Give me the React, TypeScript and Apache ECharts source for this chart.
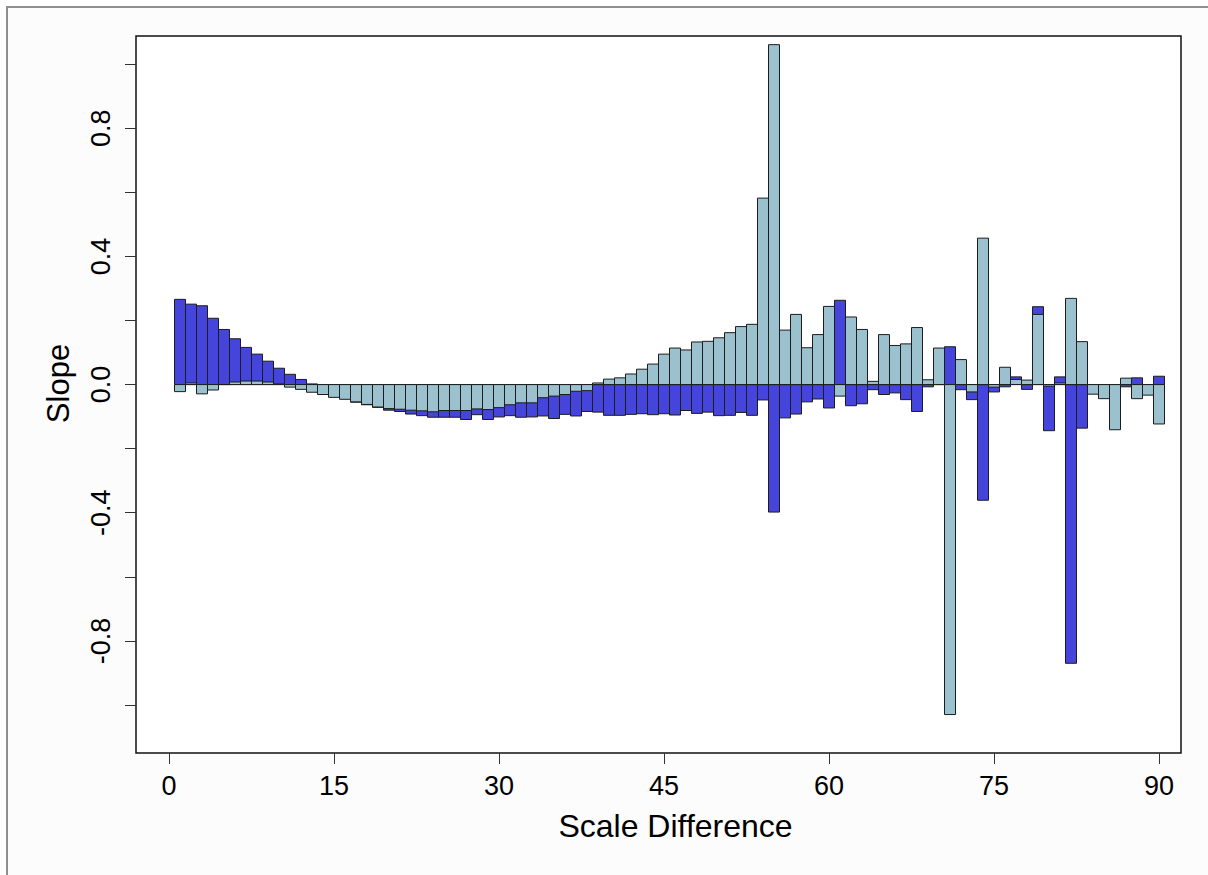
import React, { useEffect, useRef } from "react";
import * as echarts from "echarts";

const scaleDiff = [
  1, 2, 3, 4, 5, 6, 7, 8, 9, 10, 11, 12, 13, 14, 15, 16, 17, 18, 19, 20,
  21, 22, 23, 24, 25, 26, 27, 28, 29, 30, 31, 32, 33, 34, 35, 36, 37, 38, 39, 40,
  41, 42, 43, 44, 45, 46, 47, 48, 49, 50, 51, 52, 53, 54, 55, 56, 57, 58, 59, 60,
  61, 62, 63, 64, 65, 66, 67, 68, 69, 70, 71, 72, 73, 74, 75, 76, 77, 78, 79, 80,
  81, 82, 83, 84, 85, 86, 87, 88, 89, 90,
];

// dark blue series (drawn first)
const slopeBlue = [
  0.266, 0.251, 0.246, 0.207, 0.172, 0.143, 0.116, 0.095, 0.073, 0.051,
  0.032, 0.016, 0.002, -0.01, -0.02, -0.03, -0.055, -0.063, -0.071, -0.08,
  -0.084, -0.092, -0.097, -0.102, -0.102, -0.102, -0.109, -0.094, -0.109, -0.101,
  -0.097, -0.102, -0.101, -0.098, -0.106, -0.093, -0.098, -0.084, -0.086, -0.096,
  -0.096, -0.093, -0.091, -0.094, -0.091, -0.095, -0.081, -0.09, -0.086, -0.097,
  -0.096, -0.087, -0.096, -0.048, -0.398, -0.104, -0.092, -0.054, -0.045, -0.073,
  0.263, -0.066, -0.06, -0.016, -0.031, -0.026, -0.047, -0.084, -0.007, 0.0,
  0.118, -0.016, -0.047, -0.361, -0.023, -0.007, 0.024, -0.015, 0.243, -0.144,
  0.024, -0.87, -0.136, -0.005, 0.0, 0.0, -0.007, 0.021, 0.0, 0.026,
];

// light blue series (drawn on top)
const slopeLight = [
  -0.022, 0.005, -0.029, -0.017, 0.0, 0.008, 0.011, 0.011, 0.008, 0.002,
  -0.008, -0.015, -0.024, -0.031, -0.04, -0.046, -0.054, -0.062, -0.07, -0.075,
  -0.077, -0.08, -0.082, -0.085, -0.081, -0.081, -0.081, -0.076, -0.078, -0.072,
  -0.063, -0.057, -0.057, -0.041, -0.036, -0.031, -0.021, -0.019, 0.005, 0.017,
  0.021, 0.033, 0.048, 0.064, 0.095, 0.114, 0.108, 0.133, 0.135, 0.146,
  0.162, 0.181, 0.188, 0.582, 1.061, 0.17, 0.219, 0.115, 0.156, 0.244,
  -0.036, 0.211, 0.172, 0.01, 0.156, 0.122, 0.127, 0.178, 0.015, 0.114,
  -1.03, 0.078, -0.023, 0.457, -0.008, 0.054, 0.016, 0.014, 0.219, -0.005,
  0.005, 0.269, 0.134, -0.03, -0.044, -0.141, 0.02, -0.044, -0.033, -0.123,
];

const xTicks = [0, 15, 30, 45, 60, 75, 90];
const yTicks = [-1.0, -0.8, -0.6, -0.4, -0.2, 0.0, 0.2, 0.4, 0.6, 0.8, 1.0];
const yLabels = [-0.8, -0.4, 0.0, 0.4, 0.8];

const FONT = "'Liberation Sans', Arial, Helvetica, sans-serif";

function makeSeries(name: string, values: number[], fill: string) {
  return {
    type: "custom",
    name,
    data: scaleDiff.map((x, i) => [x, values[i]]),
    encode: { x: 0, y: 1 },
    renderItem: (params: any, api: any) => {
      const x = api.value(0);
      const v = api.value(1);
      const p0 = api.coord([x - 0.5, 0]);
      const p1 = api.coord([x + 0.5, v]);
      return {
        type: "rect",
        shape: {
          x: p0[0],
          y: Math.min(p0[1], p1[1]),
          width: p1[0] - p0[0],
          height: Math.abs(p1[1] - p0[1]),
        },
        style: { fill, stroke: "#1c1c1c", lineWidth: 1 },
      };
    },
  };
}

export default function App() {
  const ref = useRef<HTMLDivElement>(null);
  useEffect(() => {
    if (!ref.current) return;
    const chart = echarts.init(ref.current, undefined, { renderer: "svg" });
    chart.setOption({
      animation: false,
      grid: {
        left: 136,
        right: 27,
        top: 36,
        bottom: 122,
        show: true,
        backgroundColor: "#ffffff",
        borderColor: "#111111",
        borderWidth: 1.5,
      },
      xAxis: {
        type: "value",
        min: -3,
        max: 92,
        name: "Scale Difference",
        nameLocation: "middle",
        nameGap: 57,
        nameTextStyle: {
          fontSize: 32,
          fontFamily: FONT,
          color: "#000",
          padding: [0, 0, 0, 34],
        },
        axisLine: { show: false, onZero: false },
        splitLine: { show: false },
        axisTick: {
          show: true,
          length: 11,
          inside: false,
          customValues: xTicks,
          lineStyle: { color: "#333", width: 1 },
        },
        axisLabel: {
          customValues: xTicks,
          fontSize: 27,
          fontFamily: FONT,
          color: "#000",
          margin: 19,
        },
      },
      yAxis: {
        type: "value",
        min: -1.15,
        max: 1.088,
        name: "Slope",
        nameLocation: "middle",
        nameGap: 62,
        nameRotate: 90,
        nameTextStyle: {
          fontSize: 31,
          fontFamily: FONT,
          color: "#000",
          padding: [0, 0, 0, 22],
        },
        axisLine: { show: false, onZero: false },
        splitLine: { show: false },
        axisTick: {
          show: true,
          length: 11,
          customValues: yTicks,
          lineStyle: { color: "#333", width: 1 },
        },
        axisLabel: {
          customValues: yLabels,
          rotate: 90,
          fontSize: 27,
          fontFamily: FONT,
          color: "#000",
          margin: 22,
          formatter: (v: number) => v.toFixed(1),
        },
      },
      series: [
        makeSeries("Blue", slopeBlue, "#4545DB"),
        makeSeries("Light blue", slopeLight, "#9BC1CE"),
      ],
    });
    return () => chart.dispose();
  }, []);

  return (
    <div
      style={{
        position: "fixed",
        left: 0,
        top: 0,
        width: 1208,
        height: 875,
        background: "#ffffff",
      }}
    >
      <div
        style={{
          position: "absolute",
          left: 6,
          top: 6,
          width: 1202,
          height: 869,
          boxSizing: "border-box",
          borderLeft: "2px solid #8f8f8f",
          borderTop: "2px solid #8f8f8f",
          background: "#fcfcfc",
        }}
      />
      <div
        ref={ref}
        style={{ position: "absolute", left: 0, top: 0, width: 1208, height: 875 }}
      />
    </div>
  );
}
